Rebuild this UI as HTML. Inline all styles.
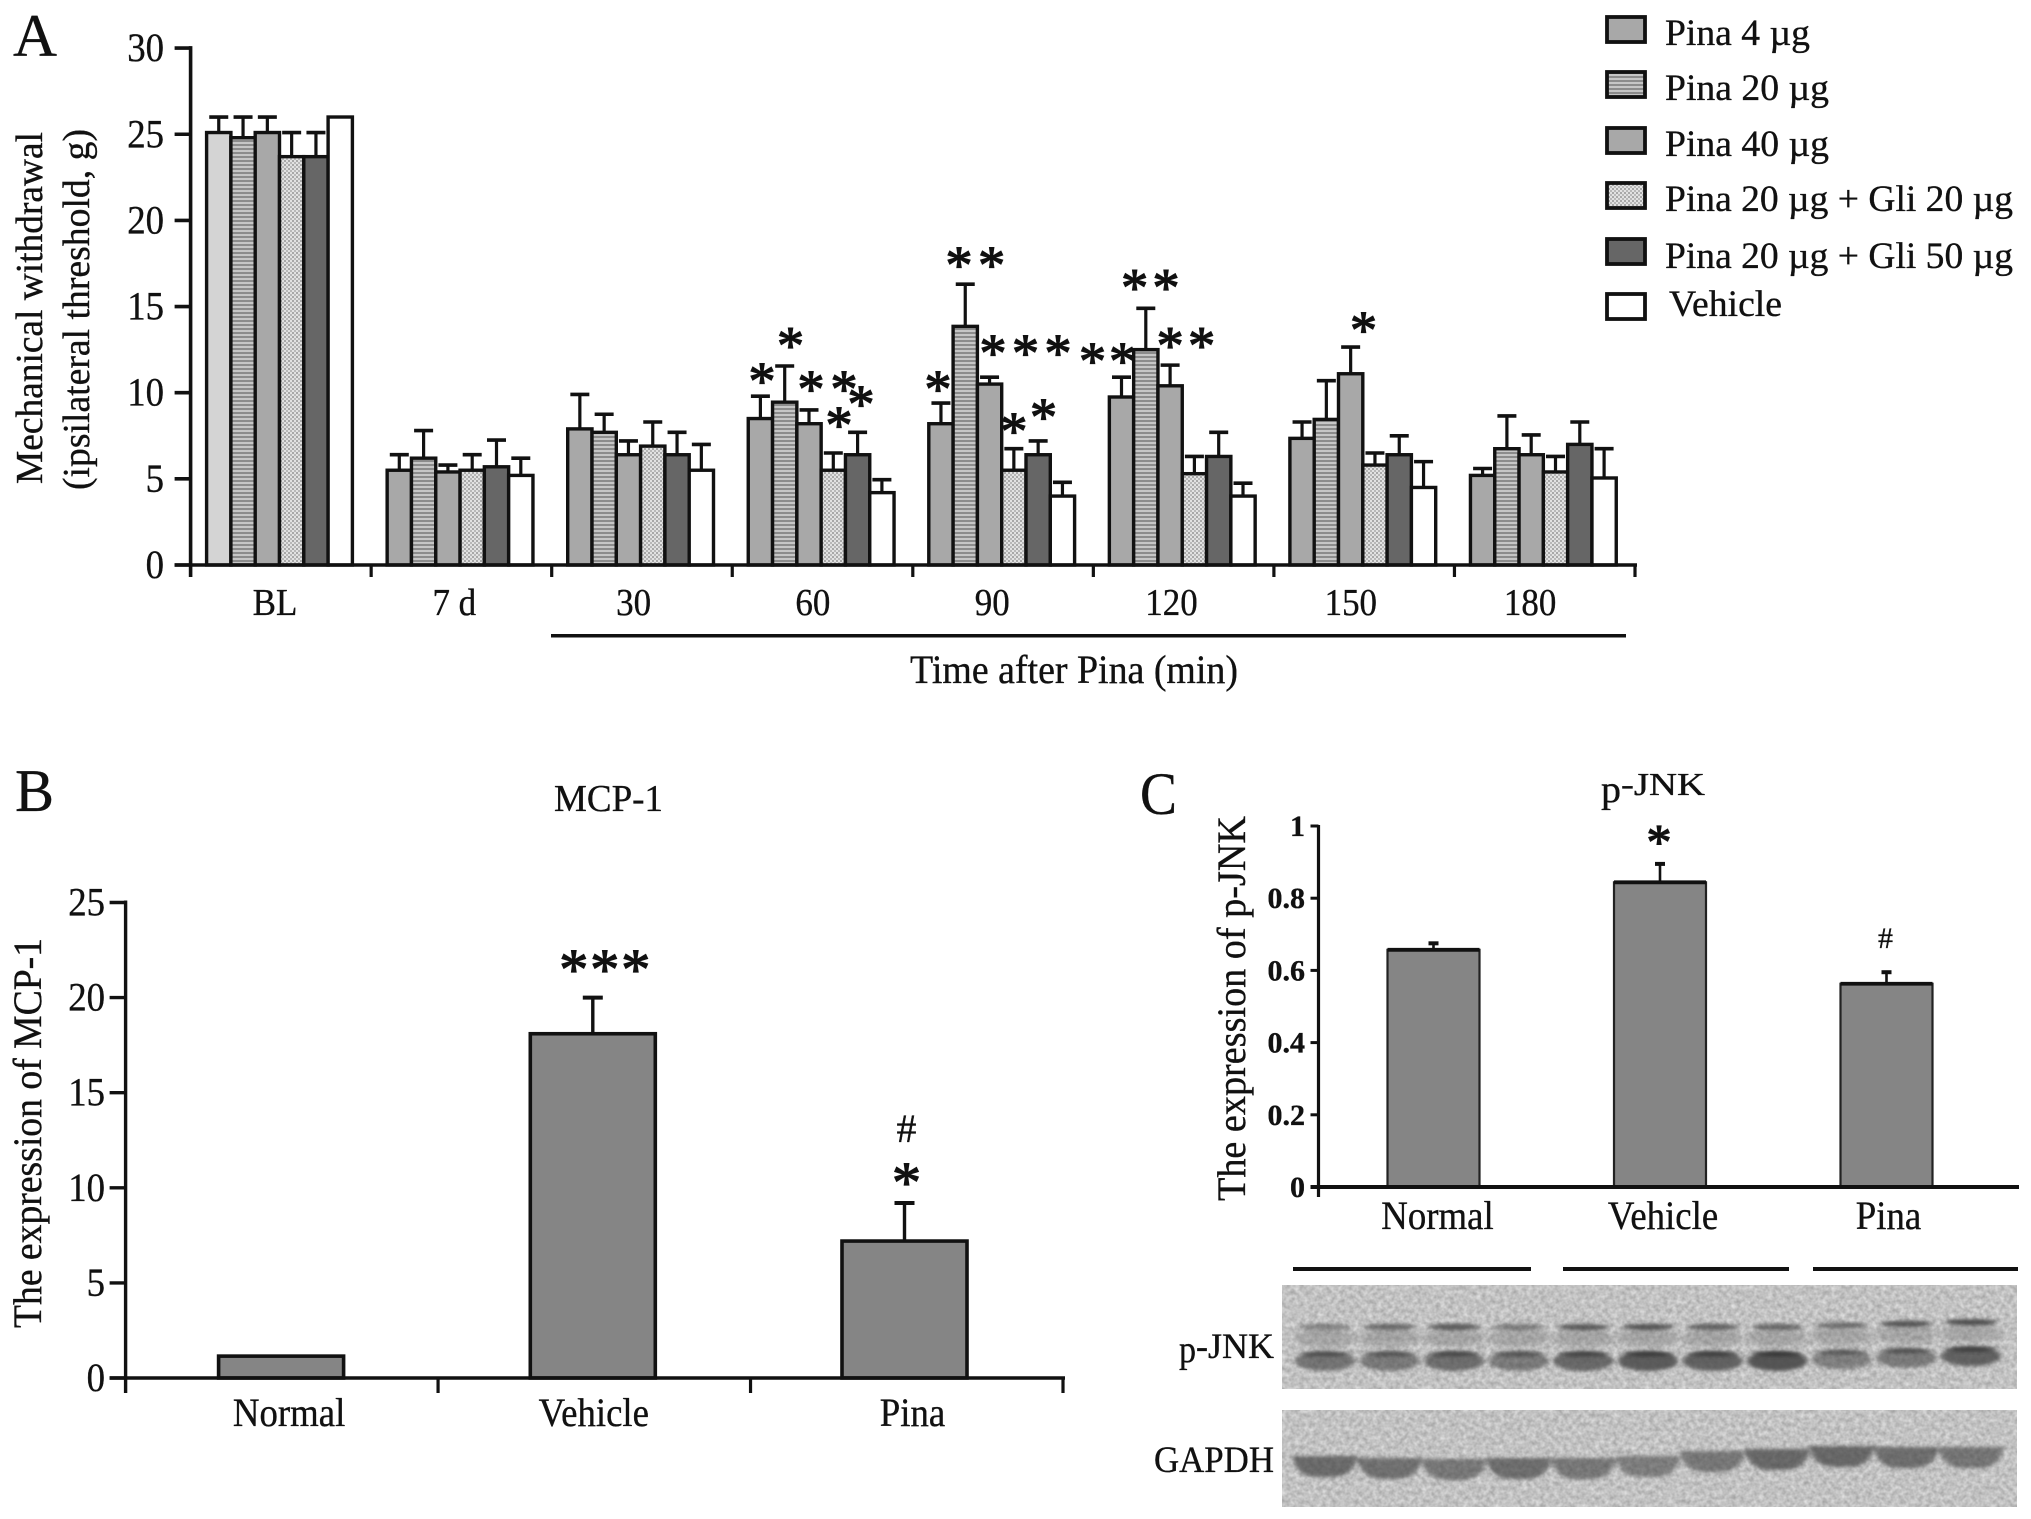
<!DOCTYPE html>
<html lang="en">
<head>
<meta charset="utf-8">
<title>Pina behaviour and expression figure</title>
<style>
html,body{margin:0;padding:0;background:#fff;}
svg{display:block;}
text{font-family:"Liberation Serif","Times New Roman",serif;fill:#111;stroke:#111;stroke-width:.35px;}
text.star{stroke-width:1.3px;}
</style>
</head>
<body>
<svg id="fig" xmlns="http://www.w3.org/2000/svg" width="2031" height="1519" viewBox="0 0 2031 1519">
<defs>
<pattern id="stripes" width="4" height="4" patternUnits="userSpaceOnUse"><rect width="4" height="4" fill="#c6c6c6"/><rect width="4" height="2" fill="#8c8c8c"/></pattern>
<pattern id="dots" width="4" height="4" patternUnits="userSpaceOnUse"><rect width="4" height="4" fill="#e2e2e2"/><rect width="2" height="2" fill="#a8a8a8"/><rect x="2" y="2" width="2" height="2" fill="#b8b8b8"/></pattern>
<filter id="noise" x="0" y="0" width="100%" height="100%" color-interpolation-filters="sRGB">
<feTurbulence type="fractalNoise" baseFrequency="0.22" numOctaves="2" seed="7"/>
<feColorMatrix type="matrix" values="0.3 0 0 0 0.61  0.3 0 0 0 0.61  0.3 0 0 0 0.61  0 0 0 0 1"/>
</filter>
<filter id="soft" x="-30%" y="-80%" width="160%" height="260%"><feGaussianBlur stdDeviation="2.4 1.8"/></filter>
<filter id="softer" x="-30%" y="-80%" width="160%" height="260%"><feGaussianBlur stdDeviation="3 3"/></filter>
</defs>
<rect width="2031" height="1519" fill="#fff"/>

<text x="13" y="56" font-size="60" textLength="44" lengthAdjust="spacingAndGlyphs">A</text>
<text x="15" y="811" font-size="60" textLength="39" lengthAdjust="spacingAndGlyphs">B</text>
<text x="1140" y="814" font-size="60" textLength="37" lengthAdjust="spacingAndGlyphs">C</text>

<text transform="translate(42 484) rotate(-90)" font-size="38" textLength="352" lengthAdjust="spacingAndGlyphs">Mechanical withdrawal</text>
<text transform="translate(89 490) rotate(-90)" font-size="38" textLength="361" lengthAdjust="spacingAndGlyphs">(ipsilateral threshold, g)</text>
<rect x="551" y="634" width="1075" height="3.5" fill="#111"/>
<text x="910" y="683" font-size="40" textLength="328" lengthAdjust="spacingAndGlyphs">Time after Pina (min)</text>

<g>
<g><rect x="1607" y="17" width="38" height="25" fill="#a8a8a8" stroke="#111" stroke-width="3.8"/><text x="1665" y="45" font-size="37" textLength="145" lengthAdjust="spacingAndGlyphs">Pina 4 µg</text></g>
<g><rect x="1607" y="72" width="38" height="25" fill="url(#stripes)" stroke="#111" stroke-width="3.8"/><text x="1665" y="100" font-size="37" textLength="164" lengthAdjust="spacingAndGlyphs">Pina 20 µg</text></g>
<g><rect x="1607" y="128" width="38" height="25" fill="#a8a8a8" stroke="#111" stroke-width="3.8"/><text x="1665" y="156" font-size="37" textLength="164" lengthAdjust="spacingAndGlyphs">Pina 40 µg</text></g>
<g><rect x="1607" y="183" width="38" height="25" fill="url(#dots)" stroke="#111" stroke-width="3.8"/><text x="1665" y="211" font-size="37" textLength="348" lengthAdjust="spacingAndGlyphs">Pina 20 µg + Gli 20 µg</text></g>
<g><rect x="1607" y="239" width="38" height="25" fill="#666" stroke="#111" stroke-width="3.8"/><text x="1665" y="268" font-size="37" textLength="348" lengthAdjust="spacingAndGlyphs">Pina 20 µg + Gli 50 µg</text></g>
<g><rect x="1607" y="294" width="38" height="25" fill="#fff" stroke="#111" stroke-width="3.8"/><text x="1669" y="316" font-size="37" textLength="113" lengthAdjust="spacingAndGlyphs">Vehicle</text></g>
</g>

<text x="554" y="811" font-size="38" textLength="109" lengthAdjust="spacingAndGlyphs">MCP-1</text>
<text transform="translate(41 1328) rotate(-90)" font-size="40" textLength="390" lengthAdjust="spacingAndGlyphs">The expression of MCP-1</text>

<g>
<text x="1601" y="802" font-size="38" textLength="20" lengthAdjust="spacingAndGlyphs">p</text>
<text x="1621" y="795" font-size="32" textLength="84" lengthAdjust="spacingAndGlyphs">-JNK</text>
</g>
<text transform="translate(1245 1201) rotate(-90)" font-size="40" textLength="385" lengthAdjust="spacingAndGlyphs">The expression of p-JNK</text>

<g>
<rect x="1293" y="1267" width="238" height="4" fill="#111"/>
<rect x="1563" y="1267" width="226" height="4" fill="#111"/>
<rect x="1813" y="1267" width="205" height="4" fill="#111"/>
</g>
<g>
<text x="1179" y="1362" font-size="38" textLength="17" lengthAdjust="spacingAndGlyphs">p</text>
<text x="1196" y="1358" font-size="36" textLength="78" lengthAdjust="spacingAndGlyphs">-JNK</text>
</g>
<text x="1154" y="1472" font-size="37" textLength="120" lengthAdjust="spacingAndGlyphs">GAPDH</text>
<rect x="1282" y="1285" width="735" height="104" filter="url(#noise)"/>
<rect x="1282" y="1410" width="735" height="97" filter="url(#noise)"/>
<g id="blots"></g>
<g id="chartA"></g>
<g id="chartB"></g>
<g id="chartC"></g>
</svg>

<script>
/* ---------- Panel A data ---------- */
const timeLabels = ['BL','7 d','30','60','90','120','150','180'];
const seriesNames = ['pina-4','pina-20','pina-40','gli-20','gli-50','vehicle'];
const pina4 = [25.1,5.5,7.9,8.5,8.2,9.75,7.35,5.2];
const pina20 = [24.8,6.2,7.7,9.45,13.85,12.5,8.45,6.75];
const pina40 = [25.1,5.4,6.4,8.2,10.5,10.4,11.1,6.4];
const gli20 = [23.7,5.5,6.9,5.5,5.5,5.3,5.8,5.4];
const gli50 = [23.7,5.7,6.4,6.4,6.4,6.3,6.4,7.0];
const vehicle = [26,5.2,5.5,4.2,4.0,4.0,4.5,5.05];
const pina4Err = [26,6.4,9.9,9.8,9.4,10.9,8.3,5.6];
const pina20Err = [26,7.8,8.75,11.55,16.3,14.9,10.7,8.65];
const pina40Err = [26,5.8,7.2,9.0,10.9,11.6,12.65,7.55];
const gli20Err = [25.1,6.4,8.3,6.5,6.75,6.3,6.5,6.3];
const gli50Err = [25.1,7.25,7.7,7.7,7.2,7.7,7.5,8.3];
const vehicleErr = [26,6.2,7.0,4.95,4.8,4.75,6.0,6.75];
const ticksA = [0,5,10,15,20,25,30];
/* significance stars: [time index, series index] they annotate */
const starTargets = [
  [3,0],[3,1],[3,2],[3,3],[3,4],[3,3],
  [4,1],[4,1],[4,0],[4,2],[4,3],[4,5],[4,3],[4,4],
  [5,0],[5,0],[5,1],[5,1],[5,2],[5,2],
  [6,2]
];

/* ---------- Panel B data ---------- */
const categoriesB = ['Normal','Vehicle','Pina'];
const valuesB = [1.15,18.1,7.2];
const errorsB = [1.15,20.0,9.2];
const ticksB = [0,5,10,15,20,25];

/* ---------- Panel C data ---------- */
const categoriesC = ['Normal','Vehicle','Pina'];
const valuesC = [0.657,0.844,0.563];
const errorsC = [0.675,0.895,0.595];
const ticksC = ['0','0.2','0.4','0.6','0.8','1'];

/* ---------- Blot lane densities ---------- */
const upperBand = [0.45,0.65,0.75,0.5,0.75,0.8,0.7,0.65,0.6,0.8,0.85];
const lowerBand = [0.65,0.6,0.7,0.6,0.75,0.85,0.8,0.9,0.55,0.6,0.8];
const gapdhBand = [0.7,0.65,0.6,0.68,0.6,0.55,0.6,0.72,0.72,0.68,0.62];
const gapdhShift = [0,2,3,2,2,0,-5,-7,-10,-9,-9];

const NS = 'http://www.w3.org/2000/svg';
function make(parent, tag, attrs, content) {
  const el = document.createElementNS(NS, tag);
  for (const k in attrs) el.setAttribute(k, attrs[k]);
  if (content !== undefined) el.textContent = content;
  parent.appendChild(el);
  return el;
}
const INK = '#111';
const squeeze = (x, y) => 'translate(' + x + ' ' + y + ') scale(0.92 1)';

/* ===== Panel A ===== */
(function () {
  const g = document.getElementById('chartA');
  const zeroY = 565, unit = 17.23, axisX = 190.6, endX = 1635;
  const y = v => zeroY - v * unit;
  const step = (endX - axisX) / timeLabels.length;
  const barW = 24.3;
  const groupX = i => axisX + 16 + i * step;
  const values = [pina4, pina20, pina40, gli20, gli50, vehicle];
  const errors = [pina4Err, pina20Err, pina40Err, gli20Err, gli50Err, vehicleErr];
  const fills = ['#a8a8a8', 'url(#stripes)', '#a8a8a8', 'url(#dots)', '#666', '#fff'];

  timeLabels.forEach((lab, c) => {
    seriesNames.forEach((name, s) => {
      const x = groupX(c) + s * barW;
      const cx = x + barW / 2;
      const v = values[s][c], e = errors[s][c];
      if (e > v) {
        const stem = make(g, 'line', {x1: cx, x2: cx, y1: y(v), y2: y(e), stroke: INK, 'stroke-width': 3.2});
        
        
        const cap = make(g, 'line', {x1: cx - 9.5, x2: cx + 9.5, y1: y(e), y2: y(e), stroke: INK, 'stroke-width': 3.6});
        
        
      }
    });
    seriesNames.forEach((name, s) => {
      const x = groupX(c) + s * barW;
      const v = values[s][c];
      const fill = (c === 0 && s === 0) ? '#d4d4d4' : fills[s];
      const bar = make(g, 'rect', {x: x, y: y(v), width: barW, height: zeroY - y(v), fill: fill, stroke: INK, 'stroke-width': 3.4});
      
      
    });
    const t = make(g, 'text', {transform: squeeze(275 + c * 179.3, 615), 'font-size': 38, 'text-anchor': 'middle'}, lab);
    
    
  });

  const yAxis = make(g, 'line', {x1: axisX, x2: axisX, y1: y(30) - 2, y2: zeroY + 12, stroke: INK, 'stroke-width': 3.6});
  
  
  const xAxis = make(g, 'line', {x1: axisX - 16, x2: endX + 2, y1: zeroY, y2: zeroY, stroke: INK, 'stroke-width': 3.6});
  
  

  ticksA.forEach(v => {
    const tk = make(g, 'line', {x1: axisX - 16, x2: axisX, y1: y(v), y2: y(v), stroke: INK, 'stroke-width': 3.6});
    
    
    const lb = make(g, 'text', {transform: squeeze(164, y(v) + 13), 'font-size': 40, 'text-anchor': 'end'}, String(v));
    
    
  });
  for (let i = 1; i <= timeLabels.length; i++) {
    const tk = make(g, 'line', {x1: axisX + i * step, x2: axisX + i * step, y1: zeroY, y2: zeroY + 12, stroke: INK, 'stroke-width': 3.2});
    
    
  }

  /* star placement relative to the annotated bar's error cap (layout, not data) */
  const starDx = [1.6,5.8,2,10.7,3.4,5.7, -6.2,26.4,-3,3.5,11.7,-4.4,0,5.4, -29,1.1,-11.2,20.2,0,31.5, 12.8];
  const starRise = [1.11,1.42,1.45,3.95,1.88,1.86, 1.34,1.34,1.05,1.64,5.79,7.74,1.26,1.62, 1.17,1.17,1.44,1.44,1.37,1.37, 1.22];
  starTargets.forEach((m, i) => {
    const cx = groupX(m[0]) + m[1] * barW + barW / 2 + starDx[i];
    const top = errors[m[1]][m[0]];
    const st = make(g, 'text', {x: cx, y: y(top + starRise[i]) + 22, 'font-size': 54, 'text-anchor': 'middle', class: 'star'}, '*');
    
    
  });
})();

/* ===== Panel B ===== */
(function () {
  const g = document.getElementById('chartB');
  const zeroY = 1378, unit = 19.02, axisX = 125.6, endX = 1063;
  const y = v => zeroY - v * unit;
  const cx = i => axisX + 155.5 + i * 311.7;
  const barW = 125;
  categoriesB.forEach((c, i) => {
    if (errorsB[i] > valuesB[i]) {
      const stem = make(g, 'line', {x1: cx(i) , x2: cx(i), y1: y(valuesB[i]), y2: y(errorsB[i]), stroke: INK, 'stroke-width': 3.4});
      
      
      const cap = make(g, 'line', {x1: cx(i) - 10, x2: cx(i) + 10, y1: y(errorsB[i]), y2: y(errorsB[i]), stroke: INK, 'stroke-width': 4});
      
      
    }
    const bar = make(g, 'rect', {x: cx(i) - barW / 2, y: y(valuesB[i]), width: barW, height: zeroY - y(valuesB[i]), fill: '#858585', stroke: INK, 'stroke-width': 3.6});
    
    
    const t = make(g, 'text', {transform: squeeze(cx(i) + (i === 1 ? 1 : 8), 1426), 'font-size': 40, 'text-anchor': 'middle'}, c);
    
    
  });
  const yAxis = make(g, 'line', {x1: axisX, x2: axisX, y1: y(25) - 2, y2: zeroY + 15, stroke: INK, 'stroke-width': 3.4});
  
  
  const xAxis = make(g, 'line', {x1: axisX - 16, x2: endX + 2, y1: zeroY, y2: zeroY, stroke: INK, 'stroke-width': 3.6});
  
  
  ticksB.forEach(v => {
    const tk = make(g, 'line', {x1: axisX - 16, x2: axisX, y1: y(v), y2: y(v), stroke: INK, 'stroke-width': 3.4});
    
    
    const lb = make(g, 'text', {transform: squeeze(105, y(v) + 13), 'font-size': 40, 'text-anchor': 'end'}, String(v));
    
    
  });
  [1, 2, 3].forEach(i => {
    const x = axisX + i * (endX - axisX) / 3;
    const tk = make(g, 'line', {x1: x, x2: x, y1: zeroY, y2: zeroY + 15, stroke: INK, 'stroke-width': 3.2});
    
    
  });
  [-19, 12, 43].forEach((d, i) => {
    const st = make(g, 'text', {x: cx(1) + d, y: y(errorsB[1]) - 8.6, 'font-size': 58, 'text-anchor': 'middle', class: 'star'}, '*');
    
    
  });
  const st2 = make(g, 'text', {x: cx(2) + 2, y: y(errorsB[2]) - 1, 'font-size': 58, 'text-anchor': 'middle', class: 'star'}, '*');
  
  
  const hash = make(g, 'text', {x: cx(2) + 2, y: y(errorsB[2]) - 61, 'font-size': 40, 'text-anchor': 'middle'}, '#');
  
  
})();

/* ===== Panel C ===== */
(function () {
  const g = document.getElementById('chartC');
  const zeroY = 1187, unit = 361, axisX = 1318.5, endX = 2019;
  const y = v => zeroY - v * unit;
  const cx = i => 1433.5 + i * 226.5;
  const barW = 92;
  categoriesC.forEach((c, i) => {
    const stem = make(g, 'line', {x1: cx(i), x2: cx(i), y1: y(valuesC[i]), y2: y(errorsC[i]), stroke: INK, 'stroke-width': 2.6});
    
    
    const cap = make(g, 'line', {x1: cx(i) - 5, x2: cx(i) + 5, y1: y(errorsC[i]), y2: y(errorsC[i]), stroke: INK, 'stroke-width': 4});
    
    
    const bar = make(g, 'rect', {x: cx(i) - barW / 2, y: y(valuesC[i]), width: barW, height: zeroY - y(valuesC[i]), fill: '#858585', stroke: '#222', 'stroke-width': 2.2});
    
    
    const top = make(g, 'line', {x1: cx(i) - barW / 2, x2: cx(i) + barW / 2, y1: y(valuesC[i]), y2: y(valuesC[i]), stroke: INK, 'stroke-width': 3.8});
    
    
    const t = make(g, 'text', {transform: squeeze(1437.5 + i * 225.5, 1229), 'font-size': 40, 'text-anchor': 'middle'}, c);
    
    
  });
  const yAxis = make(g, 'line', {x1: axisX, x2: axisX, y1: y(1) - 1, y2: zeroY + 10, stroke: INK, 'stroke-width': 3.2});
  
  
  const xAxis = make(g, 'line', {x1: axisX - 8, x2: endX, y1: zeroY, y2: zeroY, stroke: INK, 'stroke-width': 4});
  
  
  ticksC.forEach(lab => {
    const v = parseFloat(lab);
    const tk = make(g, 'line', {x1: axisX - 8, x2: axisX, y1: y(v), y2: y(v), stroke: INK, 'stroke-width': 3});
    
    
    const lb = make(g, 'text', {x: 1305, y: y(v) + 10, 'font-size': 30, 'font-weight': 'bold', 'text-anchor': 'end'}, lab);
    
    
  });
  const st = make(g, 'text', {x: cx(1) - 1, y: y(errorsC[1]) - 5.5, 'font-size': 50, 'text-anchor': 'middle', class: 'star'}, '*');
  
  
  const hash = make(g, 'text', {x: cx(2) - 1, y: y(errorsC[2]) - 24, 'font-size': 30, 'text-anchor': 'middle'}, '#');
  
  
})();

/* ===== Western blot bands ===== */
(function () {
  const g = document.getElementById('blots');
  const laneX = i => 1325 + i * 64.6;
  upperBand.forEach((d, i) => {
    const tilt = i > 7 ? -(i - 7) * 1.6 : 0;
    const mid = make(g, 'ellipse', {cx: laneX(i), cy: 1338 + tilt, rx: 31, ry: 9, fill: '#777', opacity: 0.4, filter: 'url(#softer)'});
    
    
    const b = make(g, 'ellipse', {cx: laneX(i), cy: 1327 + tilt, rx: 26, ry: 3.2, fill: '#3a3a3a', opacity: d, filter: 'url(#soft)'});
    
    
  });
  lowerBand.forEach((d, i) => {
    const tilt = i > 7 ? -(i - 7) * 1.6 : 0;
    const b = make(g, 'ellipse', {cx: laneX(i), cy: 1361 + tilt, rx: 30, ry: 10, fill: '#4a4a4a', opacity: d, filter: 'url(#soft)'});
    
    
    const l = make(g, 'ellipse', {cx: laneX(i), cy: 1354 + tilt, rx: 26, ry: 2.2, fill: '#333', opacity: d, filter: 'url(#soft)'});
    
    
  });
  gapdhBand.forEach((d, i) => {
    const x = laneX(i), top = 1456 + gapdhShift[i], h = 21;
    const shape = 'M' + (x - 33) + ' ' + top + ' L' + (x + 33) + ' ' + top +
      ' Q' + (x + 28) + ' ' + (top + h) + ' ' + (x + 8) + ' ' + (top + h) +
      ' L' + (x - 8) + ' ' + (top + h) + ' Q' + (x - 28) + ' ' + (top + h) + ' ' + (x - 33) + ' ' + top + ' Z';
    const b = make(g, 'path', {d: shape, fill: '#444', opacity: d, filter: 'url(#soft)'});
    
    
  });
})();
</script>
</body>
</html>
